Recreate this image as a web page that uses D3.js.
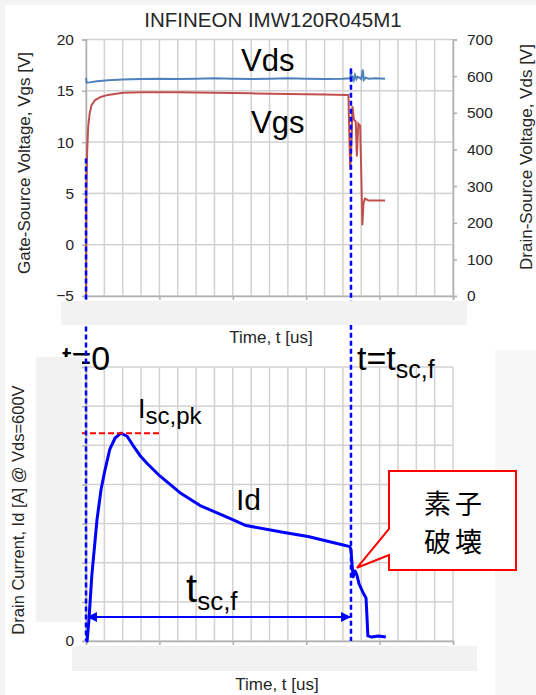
<!DOCTYPE html>
<html>
<head>
<meta charset="utf-8">
<script src="https://cdn.jsdelivr.net/npm/d3@7"></script>
<style>
  html, body { margin: 0; padding: 0; background: #f4f4f4; }
  svg { display: block; font-family: "Liberation Sans", Arial, sans-serif; }
</style>
</head>
<body>
<div id="chart"></div>
<script>
// top chart: gate / drain-source voltage vs time (us)
const vgsTime = [0, 0.01, 0.03, 0.06, 0.1, 0.15, 0.25, 0.4, 0.6, 1.0, 1.5, 2.5, 3.5, 4.5, 5.5, 6.5, 7.1, 7.15,
                 7.18, 7.2, 7.24, 7.26, 7.3, 7.35, 7.38, 7.42, 7.47, 7.5, 7.53, 7.56, 7.6, 7.7, 7.9, 8.15];
const vgsValues = [-5, 5, 9, 11.5, 12.8, 13.6, 14.1, 14.4, 14.6, 14.8, 14.85, 14.85, 14.8, 14.75, 14.7, 14.65, 14.6, 14.6,
                   10, 7.3, 10.5, 13.5, 12.2, 12.0, 8.6, 11.8, 11.6, 7, 1.9, 4.0, 4.5, 4.3, 4.3, 4.3];

const vdsTime = [0, 0.02, 0.1, 0.3, 0.6, 1.0, 1.5, 2.0, 2.5, 3.0, 3.5, 4.0, 4.5, 5.0, 5.5, 6.0, 6.5, 7.0, 7.2,
                 7.22, 7.24, 7.27, 7.3, 7.33, 7.37, 7.4, 7.45, 7.5, 7.54, 7.57, 7.62, 7.7, 7.9, 8.15];
const vdsValues = [595, 582, 583, 586, 589, 591, 592, 593, 592, 593, 594, 593, 592, 593, 594, 593, 592, 593, 594,
                   622, 585, 600, 590, 603, 592, 598, 596, 592, 618, 590, 596, 593, 594, 593];

// bottom chart: drain current (grid units, only 0 is labelled)
const idTime = [0, 0.03, 0.08, 0.16, 0.3, 0.41, 0.52, 0.65, 0.79, 0.95, 1.12, 1.28, 1.47, 1.66, 2.02, 2.56, 3.11,
                3.92, 4.36, 5.4, 6.05, 6.98, 7.19, 7.22, 7.25, 7.28, 7.33, 7.38, 7.44, 7.49, 7.55, 7.63, 7.66,
                7.68, 7.79, 7.96, 8.17];
const idValues = [0, 0, 0.54, 1.69, 3.1, 3.87, 4.38, 4.9, 5.18, 5.31, 5.23, 5.0, 4.74, 4.54, 4.21, 3.79, 3.46,
                  3.13, 2.95, 2.77, 2.67, 2.46, 2.41, 2.33, 1.95, 1.64, 1.79, 1.69, 1.46, 1.36, 1.23, 1.1, 0.54,
                  0.13, 0.1, 0.13, 0.1];

const vgsTicks = [-5, 0, 5, 10, 15, 20];
const vdsTicks = [0, 100, 200, 300, 400, 500, 600, 700];
const idTicks = [0, 1, 2, 3, 4, 5, 6, 7];
const idTickLabels = ['0'];
const timeMinor = d3.range(0, 10.01, 0.5);
const timeMajor = [0, 2, 4, 6, 8, 10];

const tFail = 7.22;

const W = 536, H = 695;
const font = '"Liberation Sans", Arial, sans-serif';
const gridCol = '#d2d2d2', axisCol = '#b0b0b0', tickText = '#262626';

let svg = d3.select('#chart').append('svg')
    .attr('width', W)
    .attr('height', H);

svg.append('rect').attr('x', 0).attr('y', 0).attr('width', W).attr('height', H).attr('fill', '#f4f4f4');
svg.append('rect').attr('x', 5).attr('y', 5).attr('width', W - 5).attr('height', H - 5).attr('fill', '#ffffff');

let x = d3.scaleLinear().domain([0, 10]).range([86, 453]);
let yVgs = d3.scaleLinear().domain([-5, 20]).range([296, 39.5]);
let yVds = d3.scaleLinear().domain([0, 700]).range([296, 39.5]);
let yId = d3.scaleLinear().domain([0, 7]).range([641, 367]);

let styleAxis = function (a) {
    a.select('.domain').attr('stroke', axisCol).attr('stroke-width', 1.5);
    a.selectAll('.tick line').attr('stroke', axisCol).attr('stroke-width', 1.5);
    a.selectAll('.tick text')
        .attr('fill', tickText)
        .style('font-family', font)
        .style('font-size', '15.5px');
};

// gridlines as thin filled rects (time every 0.5 us, value at each tick)
let drawGrid = function (g, y, yTicks) {
    const [y0, y1] = y.range();
    const [x0, x1] = x.range();
    const gw = 1.5;
    g.append('g')
        .attr('class', 'vgrid')
        .selectAll('rect')
        .data(timeMinor)
        .join('rect')
        .attr('x', d => x(d) - gw / 2).attr('y', y1)
        .attr('width', gw).attr('height', y0 - y1)
        .style('fill', gridCol);
    g.append('g')
        .attr('class', 'hgrid')
        .selectAll('rect')
        .data(yTicks)
        .join('rect')
        .attr('x', x0).attr('y', d => y(d) - gw / 2)
        .attr('width', x1 - x0).attr('height', gw)
        .style('fill', gridCol);
};

// ---- top chart ----
let topG = svg.append('g').attr('class', 'top-chart');

drawGrid(topG, yVgs, vgsTicks);

topG.append('g')
    .attr('transform', `translate(${x(0)},0)`)
    .call(d3.axisLeft(yVgs).tickValues(vgsTicks).tickSize(4).tickPadding(8))
    .call(styleAxis);
topG.append('g')
    .attr('transform', `translate(${x(10)},0)`)
    .call(d3.axisRight(yVds).tickValues(vdsTicks).tickSize(4).tickPadding(10))
    .call(styleAxis);
topG.append('g')
    .attr('transform', `translate(0,${yVgs(-5)})`)
    .call(d3.axisBottom(x).tickValues(timeMajor).tickSize(4).tickFormat(''))
    .call(styleAxis);

let lineVds = d3.line().x((d, i) => x(vdsTime[i])).y(d => yVds(d));
let lineVgs = d3.line().x((d, i) => x(vgsTime[i])).y(d => yVgs(d));

topG.append('path')
    .datum(vdsValues)
    .attr('d', lineVds)
    .attr('fill', 'none')
    .attr('stroke', '#4f81bd')
    .attr('stroke-width', 2);

topG.append('path')
    .datum(vgsValues)
    .attr('d', lineVgs)
    .attr('fill', 'none')
    .attr('stroke', '#c0504d')
    .attr('stroke-width', 2);

topG.append('text')
    .attr('x', 273).attr('y', 27)
    .attr('text-anchor', 'middle')
    .attr('font-size', 20.5).attr('fill', '#262626')
    .text('INFINEON IMW120R045M1');

topG.append('text')
    .attr('transform', 'translate(30,163) rotate(-90)')
    .attr('text-anchor', 'middle')
    .attr('font-size', 17).attr('fill', tickText)
    .text('Gate-Source Voltage, Vgs [V]');

topG.append('text')
    .attr('transform', 'translate(532,157) rotate(-90)')
    .attr('text-anchor', 'middle')
    .attr('font-size', 17).attr('fill', tickText)
    .text('Drain-Source Voltage, Vds [V]');

topG.append('text')
    .attr('x', 241).attr('y', 71)
    .attr('font-size', 31).attr('fill', '#000')
    .text('Vds');

topG.append('text')
    .attr('x', 251).attr('y', 133)
    .attr('font-size', 31).attr('fill', '#000')
    .text('Vgs');

// ---- bottom chart ----
let botG = svg.append('g').attr('class', 'bottom-chart');

drawGrid(botG, yId, idTicks);

botG.append('g')
    .attr('transform', `translate(${x(0)},0)`)
    .call(d3.axisLeft(yId).tickValues(idTicks).tickSize(4).tickPadding(8)
        .tickFormat(d => idTickLabels[d] || ''))
    .call(styleAxis);
botG.append('g')
    .attr('transform', `translate(0,${yId(0)})`)
    .call(d3.axisBottom(x).tickValues(timeMajor).tickSize(4).tickFormat(''))
    .call(styleAxis);

let lineId = d3.line().x((d, i) => x(idTime[i])).y(d => yId(d));

botG.append('path')
    .datum(idValues)
    .attr('d', lineId)
    .attr('fill', 'none')
    .attr('stroke', '#0000ff')
    .attr('stroke-width', 3)
    .attr('stroke-linejoin', 'round');

// peak current marker
const idPeak = d3.max(idValues);
botG.append('line')
    .attr('x1', x(0) - 5).attr('x2', x(2.0))
    .attr('y1', yId(idPeak)).attr('y2', yId(idPeak))
    .attr('stroke', '#ff0000').attr('stroke-width', 2)
    .attr('stroke-dasharray', '6,3');

botG.append('text')
    .attr('transform', 'translate(24,510) rotate(-90)')
    .attr('text-anchor', 'middle')
    .attr('font-size', 16.5).attr('fill', tickText)
    .text('Drain Current, Id [A] @ Vds=600V');

let isc = botG.append('text').attr('x', 138).attr('y', 418).attr('fill', '#000');
isc.append('tspan').attr('font-size', 27).text('I');
isc.append('tspan').attr('font-size', 24).attr('dy', 6).text('sc,pk');

botG.append('text')
    .attr('x', 236).attr('y', 510)
    .attr('font-size', 30).attr('fill', '#000')
    .text('Id');

let tsc = botG.append('text').attr('x', 186).attr('y', 602).attr('fill', '#000');
tsc.append('tspan').attr('font-size', 40).text('t');
tsc.append('tspan').attr('font-size', 26).attr('dy', 8).text('sc,f');

// t_sc,f double arrow
let defs = svg.append('defs');
['arrowEnd', 'arrowStart'].forEach((id, k) => {
    defs.append('marker')
        .attr('id', id)
        .attr('viewBox', '0 0 10 10')
        .attr('refX', k ? 1 : 9).attr('refY', 5)
        .attr('markerWidth', 5).attr('markerHeight', 4.5)
        .attr('markerUnits', 'strokeWidth')
        .attr('orient', 'auto')
        .append('path')
        .attr('d', k ? 'M10,0 L0,5 L10,10 z' : 'M0,0 L10,5 L0,10 z')
        .attr('fill', '#0000ff');
});

botG.append('line')
    .attr('x1', x(0) + 2).attr('x2', x(tFail) - 1)
    .attr('y1', 617).attr('y2', 617)
    .attr('stroke', '#0000ff').attr('stroke-width', 2.2)
    .attr('marker-start', 'url(#arrowStart)')
    .attr('marker-end', 'url(#arrowEnd)');

// ---- t=0 / t=tsc,f markers ----
svg.append('text')
    .attr('x', 62).attr('y', 370)
    .attr('font-size', 34).attr('fill', '#000')
    .text('t=0');

let tf = svg.append('text').attr('x', 357).attr('y', 370).attr('fill', '#000');
tf.append('tspan').attr('font-size', 34).text('t=t');
tf.append('tspan').attr('font-size', 25).attr('dy', 8).text('sc,f');

svg.append('line')
    .attr('x1', x(0)).attr('x2', x(0))
    .attr('y1', yVgs(8.4)).attr('y2', yId(0))
    .attr('stroke', '#0000ff').attr('stroke-width', 2.5)
    .attr('stroke-dasharray', '5,3');

svg.append('line')
    .attr('x1', x(tFail)).attr('x2', x(tFail))
    .attr('y1', yVds(620)).attr('y2', yId(0))
    .attr('stroke', '#0000ff').attr('stroke-width', 2.5)
    .attr('stroke-dasharray', '5,3');

// grey panels covering hidden axis labels
const panels = [
    [61, 301, 406, 24],
    [36, 357, 46, 265],
    [72, 646, 405, 25],
    [495, 350, 41, 345]
];
svg.append('g')
    .attr('class', 'panels')
    .selectAll('rect')
    .data(panels)
    .join('rect')
    .attr('x', d => d[0]).attr('y', d => d[1])
    .attr('width', d => d[2]).attr('height', d => d[3])
    .attr('fill', (d, i) => i === 3 ? '#f7f7f7' : '#f2f2f2');

svg.append('text')
    .attr('x', 271).attr('y', 343)
    .attr('text-anchor', 'middle')
    .attr('font-size', 17).attr('fill', tickText)
    .text('Time, t [us]');

svg.append('text')
    .attr('x', 277).attr('y', 690)
    .attr('text-anchor', 'middle')
    .attr('font-size', 17).attr('fill', tickText)
    .text('Time, t [us]');

// callout: device destruction
const tipX = x(tFail) + 6, tipY = yId(1.87);
svg.append('path')
    .attr('d', `M389,471 H516 V570 H389 V555 L${tipX},${tipY} L389,529 Z`)
    .attr('fill', '#ffffff')
    .attr('stroke', '#ff0000')
    .attr('stroke-width', 2);

let jp = svg.append('text')
    .attr('text-anchor', 'middle')
    .attr('font-family', '"Noto Sans CJK JP", sans-serif')
    .attr('font-size', 27)
    .attr('letter-spacing', 4)
    .attr('fill', '#000');
jp.append('tspan').attr('x', 455).attr('y', 514).text('素子');
jp.append('tspan').attr('x', 455).attr('y', 552).text('破壊');
</script>
</body>
</html>
